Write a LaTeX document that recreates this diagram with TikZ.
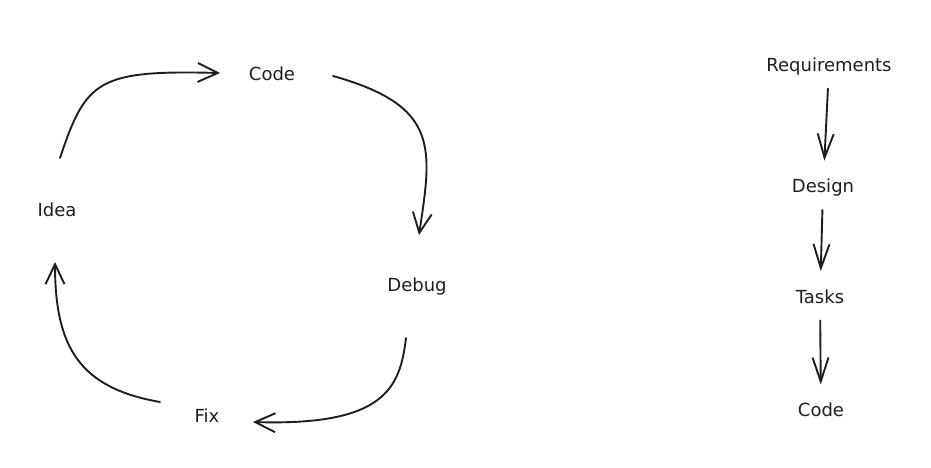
\documentclass[tikz,border=0pt]{standalone}
\usepackage{fontspec}
\setsansfont{DejaVu Sans}
\usepackage{xcolor}
\usepackage{tikz}
\usetikzlibrary{arrows.meta, positioning, calc}

\definecolor{ink}{HTML}{1E1E1E}

\begin{document}
\begin{tikzpicture}[
    x=1pt, y=1pt,
    word/.style={font=\sffamily\fontsize{18}{21}\selectfont, text=ink, inner sep=0pt, text height=13pt, text depth=4pt},
    flow/.style={-{Straight Barb[length=20pt, width=19pt]}, line width=1.9pt, draw=ink, line cap=round, line join=round},
    down/.style={flow, -{Straight Barb[length=24pt, width=16pt]}},
    gap/.style={shorten <=13pt, shorten >=19pt},
]
\useasboundingbox (0,0) rectangle (931,468);

% cycle
\node[word] (idea) at (57,256) {Idea};
\node[word] (code) at (272,392) {Code};
\node[word] (debug) at (417,181) {Debug};
\node[word] (fix) at (207,50) {Fix};

\draw[flow] ($(idea)+(3,54)$) .. controls (86,388) and (98,398) .. ($(code)+(-52,3)$);
\draw[flow] ($(code)+(61,0)$) .. controls (440,362) and (432,320) .. ($(debug)+(2,52)$);
\draw[flow] ($(debug)+(-11,-51)$) .. controls (400,80) and (385,42) .. ($(fix)+(46,-4)$);
\draw[flow] ($(fix)+(-47,16)$) .. controls (80,80) and (55,120) .. ($(idea)+(-2,-50)$);

% steps
\node[word] (req) at (829,401) {Requirements};
\node[word, below=104pt of req, xshift=-6pt] (design) {Design};
\node[word, below=93pt of design, xshift=-3pt] (tasks) {Tasks};
\node[word, below=96pt of tasks, xshift=1pt] (code2) {Code};

\draw[down, gap] (req) -- (design);
\draw[down, gap] (design) -- (tasks);
\draw[down, gap] (tasks) -- (code2);
\end{tikzpicture}
\end{document}
